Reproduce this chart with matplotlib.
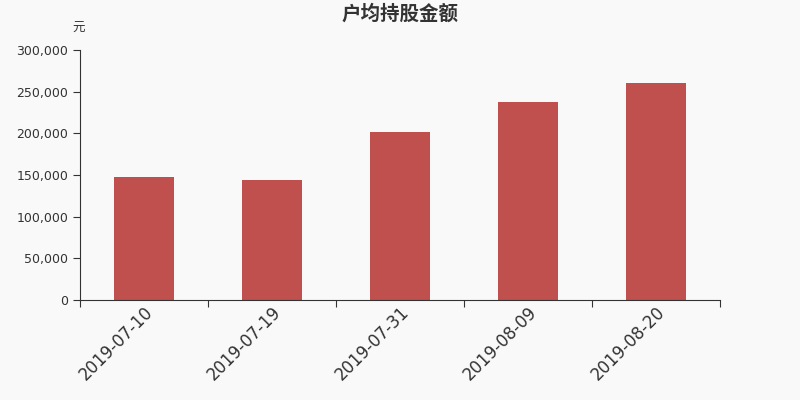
import numpy as np
import matplotlib
matplotlib.use('Agg')
import matplotlib.pyplot as plt
from matplotlib.ticker import FuncFormatter

plt.rcParams['font.family'] = ['DejaVu Sans', 'Noto Sans CJK SC']

dates = ['2019-07-10', '2019-07-19', '2019-07-31', '2019-08-09', '2019-08-20']
values = [147600, 144400, 202000, 237100, 260800]

bg = '#f9f9f9'
fig = plt.figure(figsize=(8, 4), dpi=100, facecolor=bg)
ax = fig.add_axes([0.1, 0.25, 0.8, 0.625], facecolor=bg)

x = np.arange(len(dates))
ax.bar(x, values, width=0.47, color='#c0504d', zorder=2)

ax.set_xlim(-0.5, len(dates) - 0.5)
ax.set_ylim(0, 300000)
ax.set_yticks(np.arange(0, 300001, 50000))
ax.yaxis.set_major_formatter(FuncFormatter(lambda v, p: f'{int(v):,}'))

ax.set_xticks(np.arange(-0.5, len(dates), 1.0))
ax.set_xticklabels([])
ax.set_xticks(x, minor=True)
ax.set_xticklabels(dates, minor=True, rotation=45, ha='right',
                   rotation_mode='anchor', fontsize=12, color='#333333')
ax.tick_params(axis='x', which='minor', length=0, pad=2)
ax.tick_params(axis='x', which='major', length=5, color='#333333')
ax.tick_params(axis='y', length=5, color='#333333', labelsize=9,
               labelcolor='#333333')

for s in ['top', 'right']:
    ax.spines[s].set_visible(False)
for s in ['left', 'bottom']:
    ax.spines[s].set_color('#333333')

fig.text(0.5, 0.965, '户均持股金额', ha='center', va='center',
         fontsize=14, fontweight='bold', color='#333333',
         family='Noto Sans CJK SC')
fig.text(0.098, 0.928, '元', ha='center', va='center', fontsize=9,
         color='#333333', family='Noto Sans CJK SC')

fig.savefig('out.png', dpi=100, facecolor=bg)
